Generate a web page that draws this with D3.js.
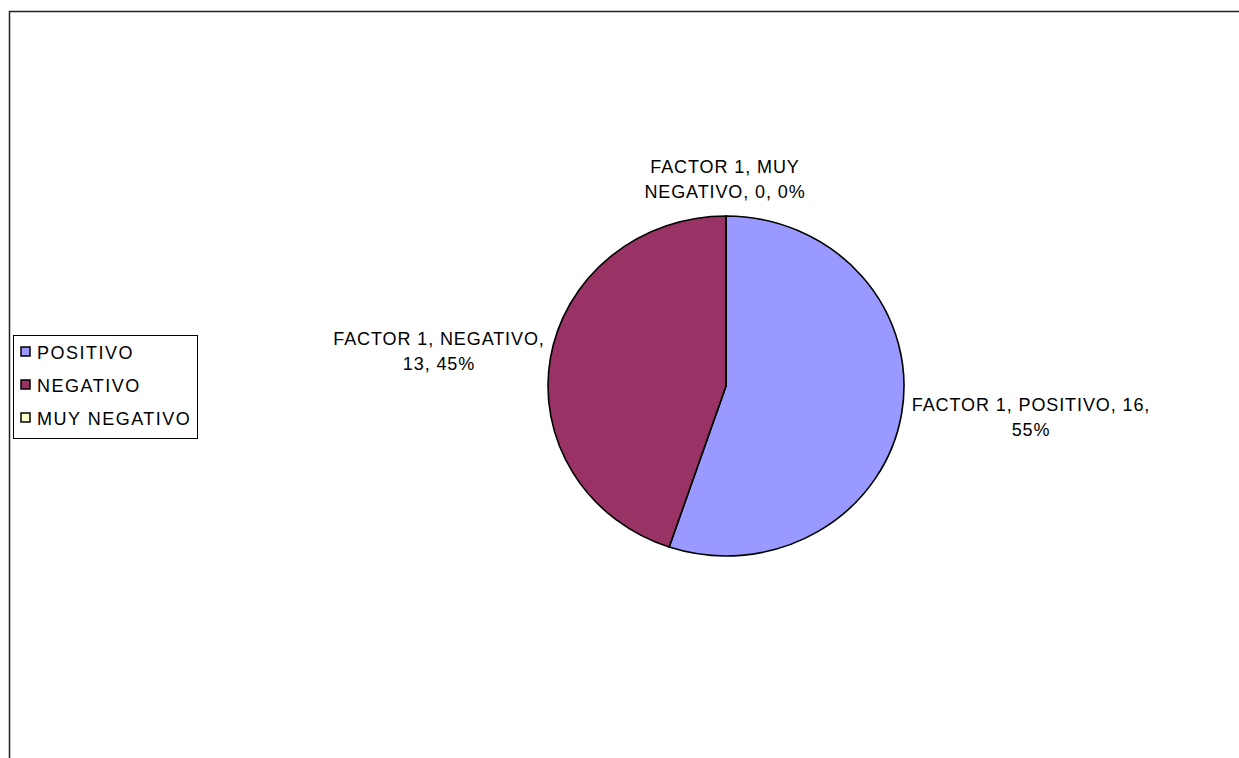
<!DOCTYPE html>
<html>
<head>
<meta charset="utf-8">
<script src="https://cdn.jsdelivr.net/npm/d3@7"></script>
<style>
  html, body { margin: 0; padding: 0; background: #fff; }
  svg { display: block; }
  text { font-family: "Liberation Sans", Arial, sans-serif; fill: #000; }
</style>
</head>
<body>
<svg id="chart" width="1239" height="758"></svg>
<script>
// Series data
const seriesName = "FACTOR 1";
const categories = ["POSITIVO", "NEGATIVO", "MUY NEGATIVO"];
const values = [16, 13, 0];
const colors = ["#9999FF", "#993366", "#FFFFCC"];

// Layout
const W = 1239, H = 758;
const cx = 726, cy = 386, rx = 178, ry = 170;
const fontSize = 18, labelSpacing = 0.9, legendSpacing = 1.5, lineGap = 25;
// label anchor offsets from the pie centre (centre x, first baseline) and word index to break at
const labelOffsets = [[305, 25], [-287, -41], [-1, -213]];
const labelBreaks = [4, 3, 3];

const svg = d3.select("#chart");

// chart area frame (only top and left edges fall inside the window)
svg.append("rect")
  .attr("x", 9.5).attr("y", 11.5)
  .attr("width", W + 50).attr("height", H + 50)
  .attr("fill", "none").attr("stroke", "#222").attr("stroke-width", 1.5);

const total = d3.sum(values);
const pie = d3.pie().sort(null).value(d => d)(values);
const arc = d3.arc().innerRadius(0).outerRadius(rx);

const g = svg.append("g")
  .attr("transform", `translate(${cx},${cy}) scale(1,${ry / rx})`);

g.selectAll("path.slice")
  .data(pie)
  .join("path")
  .attr("class", "slice")
  .attr("d", arc)
  .attr("fill", (d, i) => colors[i])
  .attr("stroke", "#000")
  .attr("stroke-width", 1.6)
  .attr("vector-effect", "non-scaling-stroke");

// data labels: series, category, value, percentage
const labels = svg.append("g");
pie.forEach((d, i) => {
  const pct = Math.round(values[i] / total * 100);
  const words = `${seriesName}, ${categories[i]}, ${values[i]}, ${pct}%`.split(" ");
  const lines = [words.slice(0, labelBreaks[i]).join(" "), words.slice(labelBreaks[i]).join(" ")];
  const t = labels.append("text")
    .attr("text-anchor", "middle")
    .attr("font-size", fontSize)
    .attr("letter-spacing", labelSpacing);
  lines.forEach((ln, k) => {
    t.append("tspan")
      .attr("x", cx + labelOffsets[i][0])
      .attr("y", cy + labelOffsets[i][1] + k * lineGap)
      .text(ln);
  });
});

// legend
const legend = svg.append("g");
legend.append("rect")
  .attr("x", 13.5).attr("y", 335.5)
  .attr("width", 184).attr("height", 103)
  .attr("fill", "#fff").attr("stroke", "#000").attr("stroke-width", 1);

const legendY = d3.scalePoint().domain(categories).range([352, 418]);
categories.forEach((c, i) => {
  const y = legendY(c);
  legend.append("rect")
    .attr("x", 21).attr("y", y - 5)
    .attr("width", 9).attr("height", 9)
    .attr("fill", colors[i]).attr("stroke", "#000").attr("stroke-width", 1.5);
  legend.append("text")
    .attr("x", 37).attr("y", y + 6.5)
    .attr("font-size", fontSize)
    .attr("letter-spacing", legendSpacing)
    .text(c);
});
</script>
</body>
</html>
